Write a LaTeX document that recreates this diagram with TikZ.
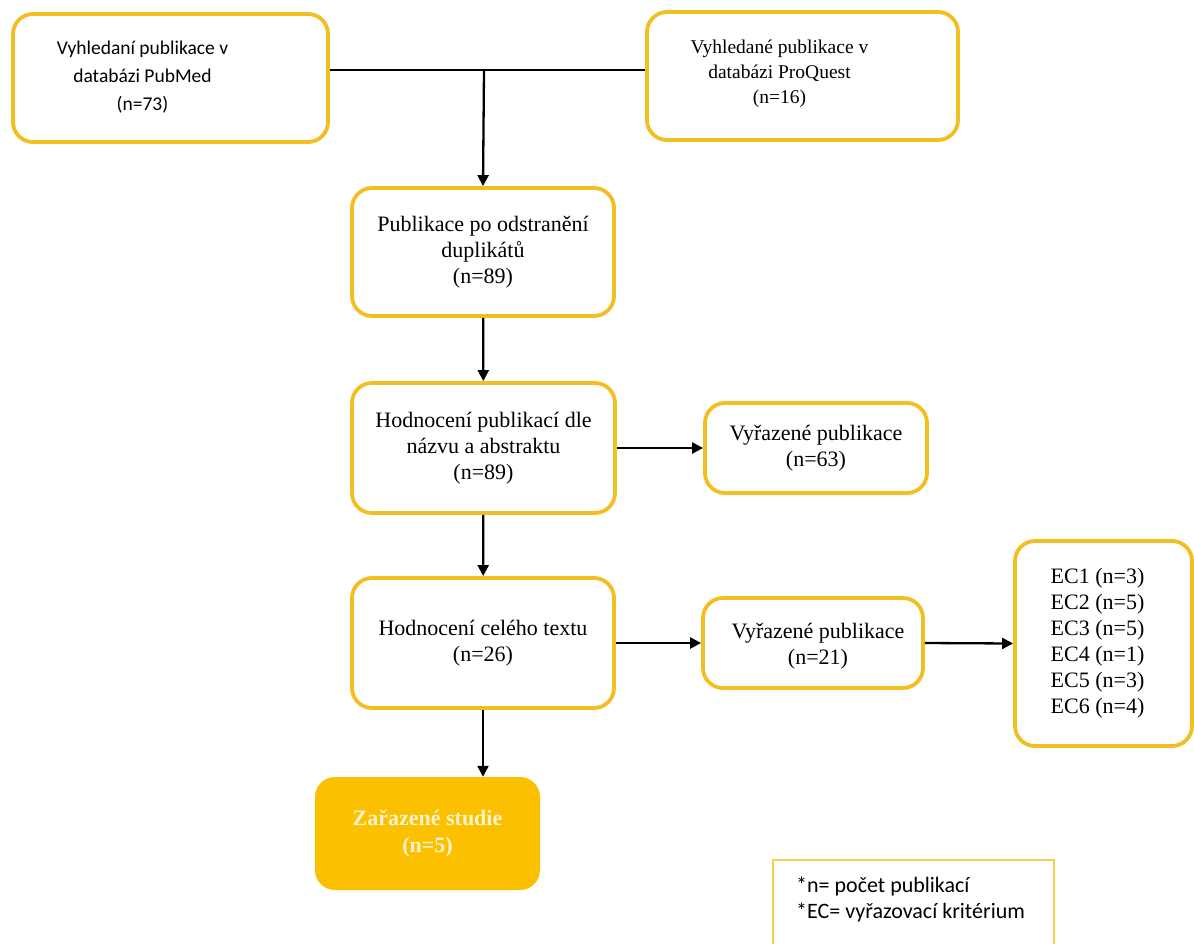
\documentclass[tikz,border=0pt]{standalone}
\usepackage{fontspec}
\setmainfont{Liberation Serif}
\newfontfamily\calibri{Carlito}
\usetikzlibrary{arrows.meta}
\definecolor{ybord}{HTML}{F3BE22}
\definecolor{yfill}{HTML}{FBC000}
\definecolor{ylight}{HTML}{F5CF4E}
\definecolor{cream}{HTML}{FFF4CF}
\begin{document}
\begin{tikzpicture}[x=1pt,y=-1pt,
  box/.style={draw=ybord,line width=3.8pt,rounded corners=20pt,align=center,inner sep=0pt,
    font=\fontsize{22}{26}\selectfont},
  conn/.style={line width=2.3pt,black},
  arr/.style={conn,-{Triangle[length=11pt,width=11pt]}}]
\useasboundingbox (0,0) rectangle (1194,943);
\node[box,minimum width=315pt,minimum height=128pt,
  label={[xshift=-28pt,yshift=1pt,align=center,font=\calibri\fontsize{19.5}{28}\selectfont]center:Vyhledaní publikace v\\databázi PubMed\\(n=73)}] (pub) at (170.5,78) {};
\node[box,minimum width=311pt,minimum height=128pt,
  label={[xshift=-23pt,yshift=2pt,align=center,font=\fontsize{19.5}{25}\selectfont]center:Vyhledané publikace v\\databázi ProQuest\\(n=16)}] (pq) at (802.5,76) {};
\node[box,minimum width=262pt,minimum height=128pt] (dup) at (483,252)
  {Publikace po odstranění\\duplikátů\\(n=89)};
\node[box,minimum width=263pt,minimum height=130pt] (hod) at (483.5,448)
  {Hodnocení publikací dle\\názvu a abstraktu\\(n=89)};
\node[box,minimum width=222pt,minimum height=90pt] (v63) at (816,448)
  {Vyřazené publikace\\(n=63)};
\node[box,minimum width=262pt,minimum height=130pt] (cel) at (483,643)
  {Hodnocení celého textu\\(n=26)};
\node[box,minimum width=220pt,minimum height=90pt,
  label={[xshift=5pt,yshift=-3pt,align=center,font=\fontsize{22}{26}\selectfont]center:Vyřazené publikace\\(n=21)}] (v21) at (813,643) {};
\node[box,minimum width=177pt,minimum height=205pt,
  label={[xshift=-6pt,yshift=0pt,align=center,font=\fontsize{22}{26}\selectfont]center:EC1 (n=3)\\EC2 (n=5)\\EC3 (n=5)\\EC4 (n=1)\\EC5 (n=3)\\EC6 (n=4)}] (ec) at (1103.5,643.5) {};
\node[fill=yfill,draw=none,rounded corners=20pt,minimum width=225pt,minimum height=113pt,align=center,
  text=cream,font=\bfseries\fontsize{22}{27}\selectfont] (zar) at (427.5,833.5)
  {Zařazené studie\\(n=5)};
\draw[ylight,line width=2pt] (773,945) -- (773,860) -- (1054,860) -- (1054,945);
\node[anchor=north west,align=left,inner sep=0pt,font=\calibri\fontsize{22}{26}\selectfont] (leg) at (796,877)
  {*n= počet publikací\\*EC= vyřazovací kritérium};
\coordinate (J) at (484,70);
\draw[conn] (pub.east |- J) -- (pq.west |- J);
\draw[arr] (J) -- (dup.north);
\draw[arr] (dup) -- (hod);
\draw[arr] (hod.east) -- (v63.west);
\draw[arr] (hod) -- (cel);
\draw[arr] (cel.east) -- (v21.west);
\draw[arr] (v21.east) -- (ec.west);
\draw[arr] (cel.south) -- (cel.south |- zar.north);
\end{tikzpicture}
\end{document}
